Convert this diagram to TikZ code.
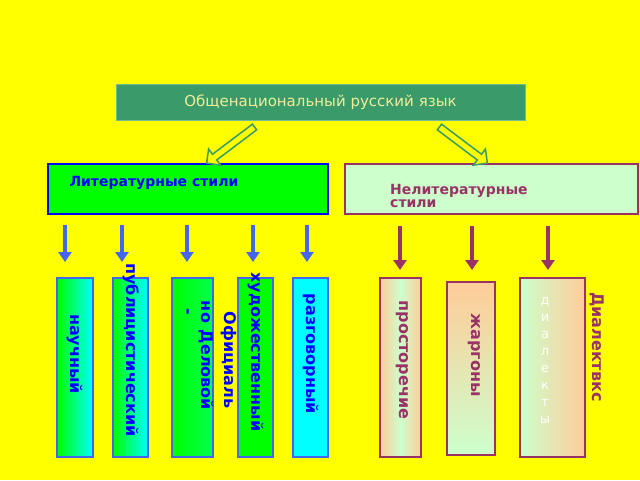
\documentclass[tikz,border=0pt]{standalone}
\usepackage{fontspec}
\setmainfont{DejaVu Sans}
\usetikzlibrary{shapes.arrows,arrows.meta}
\definecolor{bgyel}{HTML}{FFFF00}
\definecolor{topgreen}{HTML}{3A9A6A}
\definecolor{toptext}{HTML}{EEEE99}
\definecolor{plum}{HTML}{993366}
\definecolor{mint}{HTML}{CCFFCC}
\definecolor{peach}{HTML}{FFCC99}
\definecolor{litblue}{HTML}{4466EE}
\tikzset{
  litbox/.style={draw=litblue,line width=1.5pt,left color=green,right color=cyan},
  nonbox/.style={draw=plum,line width=1.5pt,left color=peach,right color=peach,middle color=mint},
  vlab/.style={rotate=-90,font=\bfseries\fontsize{16}{18}\selectfont},
  downblue/.style={draw=litblue,line width=3.5pt,-{Triangle[length=10pt,width=13pt]}},
  downplum/.style={draw=plum,line width=3.5pt,-{Triangle[length=10pt,width=13pt]}},
  hollow/.style={single arrow,draw=topgreen,fill=bgyel,line width=1.5pt,minimum width=20pt,
    single arrow head extend=5pt,minimum height=60pt,inner sep=2pt}
}
\begin{document}
\begin{tikzpicture}[x=1pt,y=-1pt]
  \fill[bgyel] (0,0) rectangle (640,480);

  \node[fill=topgreen,draw=topgreen!70,minimum width=409pt,minimum height=36pt,
    text=toptext,font=\fontsize{15}{18}\selectfont] (lang) at (320.5,102) {Общенациональный\ русский\ язык};

  \node[draw=blue,line width=2.5pt,fill=green,minimum width=280pt,minimum height=50pt] (lit) at (188,189) {};
  \node[anchor=west,text=blue,font=\bfseries\fontsize{14}{16}\selectfont] (littext) at (66,183) {Литературные стили};
  \node[draw=plum,line width=2pt,fill=mint,minimum width=293pt,minimum height=50pt] (non) at (491.5,189) {};
  \node[anchor=north west,text=plum,font=\bfseries\fontsize{14}{16}\selectfont,align=left,inner sep=0pt] (nontext) at (390,184)
    {Нелитературные\\[-3pt]стили};

  \node[hollow,rotate=-143] (harrL) at (232,144) {};
  \node[hollow,rotate=-37] (harrR) at (462,144) {};

  % literary styles
  \foreach \x/\n in {65/a1,122/a2,187/a3,253/a4,307/a5}
    \draw[downblue] (\x,225) coordinate (\n) -- (\x,262);
  \foreach \x/\n in {400/b1,472/b2,548/b3}
    \draw[downplum] (\x,226) coordinate (\n) -- (\x,270);

  \node[litbox,minimum width=36pt,minimum height=179pt] (nauch) at (75,367.5) {};
  \node[litbox,minimum width=35pt,minimum height=179pt] (publ) at (130.5,367.5) {};
  \node[litbox,left color=green,right color=green!70!cyan,minimum width=41pt,minimum height=179pt] (delov) at (192.5,367.5) {};
  \node[litbox,left color=green,right color=green,minimum width=35pt,minimum height=179pt] (hud) at (255.5,367.5) {};
  \node[litbox,left color=cyan,right color=cyan,minimum width=35pt,minimum height=179pt] (razg) at (310.5,367.5) {};

  \node[vlab,text=blue] at (75,354) {научный};
  \node[vlab,text=blue] at (131,350) {публицистический};
  \node[vlab,text=blue] at (229,360) {Официаль};
  \node[vlab,text=blue] at (206,370) {Деловой};
  \node[vlab,text=blue] at (206,312) {но};
  \node[vlab,text=blue] at (186,312) {-};
  \node[vlab,text=blue] at (256,352) {художественный};
  \node[vlab,text=blue] at (311,354) {разговорный};

  % non-literary
  \node[nonbox,minimum width=41pt,minimum height=179pt] (prost) at (400.5,367.5) {};
  \node[draw=plum,line width=1.5pt,top color=peach,bottom color=mint,minimum width=48pt,minimum height=173pt] (zharg) at (471,368.5) {};
  \node[draw=plum,line width=1.5pt,left color=mint,right color=peach,minimum width=65pt,minimum height=179pt] (dial) at (552.5,367.5) {};

  \node[vlab,text=plum] at (402,360) {просторечие};
  \node[vlab,text=plum] at (474,355) {жаргоны};
  \node[text=white,align=center,font=\fontsize{13}{13}\selectfont,inner sep=0pt] at (545,360)
    {д\\[4pt]и\\[4pt]а\\[4pt]л\\[4pt]е\\[4pt]к\\[4pt]т\\[4pt]ы};
  \node[vlab,text=plum] at (597,347) {Диалектвкс};
\end{tikzpicture}
\end{document}
